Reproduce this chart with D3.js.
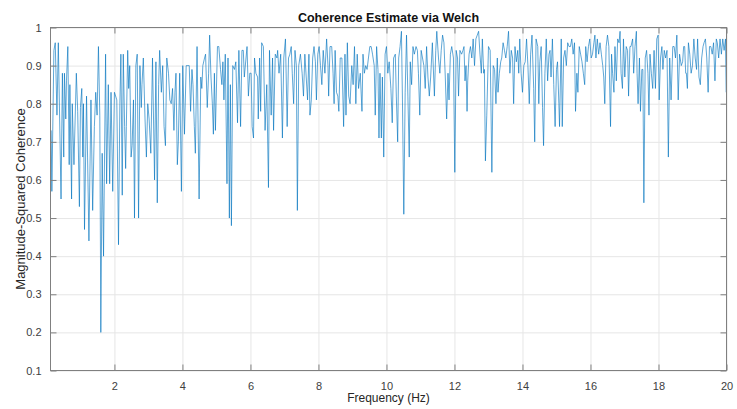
<!DOCTYPE html>
<html>
<head>
<meta charset="utf-8">
<script src="https://cdn.jsdelivr.net/npm/d3@7"></script>
<style>
  body { margin: 0; background: #fff; }
  text { font-family: "Liberation Sans", Arial, sans-serif; }
</style>
</head>
<body>
<div id="chart"></div>
<script>
// values (vertices of the trace)
var freq = [
  0.14, 0.16, 0.22, 0.26, 0.31, 0.35, 0.43, 0.47, 0.51, 0.53, 0.57, 0.59, 0.63, 0.67, 0.69, 0.74, 0.76, 0.81, 0.88, 0.92,
  0.97, 1.00, 1.04, 1.07, 1.09, 1.12, 1.18, 1.21, 1.25, 1.31, 1.36, 1.41, 1.45, 1.49, 1.53, 1.57, 1.60, 1.64, 1.68, 1.74,
  1.77, 1.82, 1.86, 1.90, 1.95, 2.00, 2.07, 2.12, 2.16, 2.19, 2.23, 2.26, 2.30, 2.33, 2.35, 2.39, 2.42, 2.45, 2.49, 2.52,
  2.56, 2.59, 2.63, 2.67, 2.71, 2.75, 2.79, 2.81, 2.85, 2.90, 2.94, 2.98, 3.02, 3.07, 3.12, 3.18, 3.22, 3.26, 3.30, 3.33,
  3.38, 3.42, 3.46, 3.50, 3.54, 3.59, 3.63, 3.67, 3.71, 3.75, 3.78, 3.81, 3.85, 3.88, 3.92, 3.97, 4.01, 4.06, 4.11, 4.20,
  4.24, 4.28, 4.31, 4.35, 4.38, 4.43, 4.49, 4.54, 4.57, 4.60, 4.65, 4.68, 4.73, 4.77, 4.80, 4.84, 4.88, 4.91, 4.94, 4.97,
  5.03, 5.07, 5.12, 5.16, 5.19, 5.22, 5.26, 5.31, 5.34, 5.38, 5.41, 5.44, 5.48, 5.53, 5.57, 5.62, 5.66, 5.71, 5.75, 5.79,
  5.82, 5.87, 5.90, 5.94, 5.98, 6.02, 6.05, 6.09, 6.12, 6.16, 6.21, 6.23, 6.27, 6.30, 6.33, 6.38, 6.43, 6.48, 6.53, 6.56,
  6.61, 6.65, 6.68, 6.73, 6.78, 6.80, 6.84, 6.89, 6.94, 6.98, 7.03, 7.08, 7.12, 7.16, 7.20, 7.23, 7.27, 7.31, 7.35, 7.38,
  7.42, 7.47, 7.52, 7.56, 7.60, 7.64, 7.68, 7.72, 7.75, 7.79, 7.83, 7.87, 7.91, 7.94, 7.98, 8.02, 8.06, 8.10, 8.14, 8.19,
  8.24, 8.28, 8.30, 8.34, 8.39, 8.43, 8.46, 8.49, 8.53, 8.57, 8.60, 8.64, 8.69, 8.74, 8.78, 8.81, 8.85, 8.89, 8.93, 8.98,
  9.02, 9.06, 9.10, 9.14, 9.18, 9.23, 9.28, 9.31, 9.35, 9.39, 9.43, 9.47, 9.51, 9.55, 9.59, 9.64, 9.67, 9.71, 9.75, 9.78,
  9.81, 9.85, 9.88, 9.92, 9.96, 10.00, 10.04, 10.08, 10.13, 10.17, 10.21, 10.26, 10.29, 10.33, 10.36, 10.40, 10.44, 10.47, 10.51, 10.55,
  10.59, 10.63, 10.67, 10.70, 10.74, 10.78, 10.82, 10.87, 10.91, 10.94, 10.98, 11.02, 11.06, 11.10, 11.14, 11.18, 11.22, 11.26, 11.30, 11.35,
  11.41, 11.45, 11.48, 11.53, 11.57, 11.61, 11.65, 11.69, 11.73, 11.77, 11.81, 11.84, 11.88, 11.92, 11.97, 12.01, 12.05, 12.09, 12.12, 12.16,
  12.21, 12.25, 12.28, 12.31, 12.34, 12.37, 12.39, 12.43, 12.47, 12.51, 12.55, 12.59, 12.63, 12.67, 12.71, 12.75, 12.79, 12.82, 12.86, 12.88,
  12.91, 12.95, 13.00, 13.05, 13.10, 13.14, 13.18, 13.22, 13.26, 13.28, 13.32, 13.36, 13.39, 13.43, 13.47, 13.51, 13.55, 13.59, 13.63, 13.67,
  13.71, 13.74, 13.78, 13.82, 13.86, 13.89, 13.92, 13.96, 14.00, 14.04, 14.08, 14.12, 14.16, 14.20, 14.24, 14.28, 14.33, 14.36, 14.40, 14.45,
  14.48, 14.51, 14.55, 14.59, 14.62, 14.66, 14.70, 14.74, 14.78, 14.81, 14.84, 14.88, 14.92, 14.96, 15.00, 15.03, 15.07, 15.09, 15.14, 15.17,
  15.21, 15.25, 15.29, 15.33, 15.37, 15.41, 15.45, 15.49, 15.53, 15.56, 15.60, 15.63, 15.67, 15.71, 15.75, 15.79, 15.83, 15.86, 15.90, 15.94,
  15.98, 16.02, 16.06, 16.10, 16.13, 16.16, 16.20, 16.24, 16.28, 16.32, 16.36, 16.39, 16.42, 16.46, 16.50, 16.54, 16.59, 16.62, 16.65, 16.69,
  16.72, 16.76, 16.80, 16.84, 16.87, 16.90, 16.94, 16.97, 17.01, 17.05, 17.09, 17.12, 17.16, 17.19, 17.24, 17.27, 17.31, 17.35, 17.37, 17.40,
  17.44, 17.47, 17.51, 17.54, 17.57, 17.61, 17.65, 17.69, 17.72, 17.75, 17.79, 17.83, 17.87, 17.91, 17.95, 17.99, 18.02, 18.06, 18.10, 18.13,
  18.17, 18.21, 18.25, 18.29, 18.33, 18.37, 18.42, 18.46, 18.50, 18.54, 18.58, 18.62, 18.67, 18.71, 18.74, 18.77, 18.80, 18.82, 18.85, 18.88,
  18.92, 18.96, 19.00, 19.04, 19.08, 19.12, 19.15, 19.19, 19.23, 19.27, 19.31, 19.34, 19.38, 19.42, 19.46, 19.50, 19.54, 19.58, 19.62, 19.66,
  19.70, 19.73, 19.77, 19.81, 19.85, 19.89, 19.93, 19.97, 19.99
];
var coh = [
  0.73, 0.57, 0.94, 0.96, 0.77, 0.96, 0.55, 0.88, 0.66, 0.88, 0.76, 0.86, 0.95, 0.64, 0.85, 0.55, 0.80, 0.64, 0.88, 0.78,
  0.53, 0.79, 0.84, 0.66, 0.80, 0.47, 0.82, 0.66, 0.44, 0.81, 0.52, 0.74, 0.83, 0.77, 0.95, 0.77, 0.20, 0.67, 0.40, 0.93,
  0.59, 0.85, 0.59, 0.83, 0.57, 0.83, 0.81, 0.43, 0.80, 0.93, 0.56, 0.93, 0.74, 0.63, 0.74, 0.94, 0.84, 0.90, 0.66, 0.69,
  0.81, 0.50, 0.90, 0.93, 0.50, 0.90, 0.79, 0.85, 0.92, 0.76, 0.66, 0.80, 0.76, 0.67, 0.92, 0.60, 0.91, 0.54, 0.85, 0.94,
  0.83, 0.90, 0.74, 0.69, 0.92, 0.88, 0.81, 0.80, 0.84, 0.73, 0.83, 0.88, 0.64, 0.70, 0.88, 0.57, 0.90, 0.72, 0.90, 0.90,
  0.78, 0.89, 0.85, 0.74, 0.67, 0.95, 0.55, 0.87, 0.84, 0.90, 0.92, 0.93, 0.79, 0.88, 0.98, 0.87, 0.80, 0.72, 0.88, 0.73,
  0.95, 0.95, 0.89, 0.85, 0.91, 0.81, 0.93, 0.59, 0.92, 0.50, 0.85, 0.48, 0.90, 0.89, 0.91, 0.75, 0.94, 0.74, 0.94, 0.94,
  0.87, 0.92, 0.95, 0.82, 0.88, 0.88, 0.74, 0.71, 0.92, 0.88, 0.87, 0.76, 0.92, 0.78, 0.96, 0.95, 0.73, 0.85, 0.58, 0.94,
  0.77, 0.92, 0.73, 0.93, 0.92, 0.94, 0.88, 0.93, 0.71, 0.92, 0.97, 0.74, 0.92, 0.93, 0.95, 0.88, 0.80, 0.94, 0.90, 0.52,
  0.90, 0.93, 0.88, 0.82, 0.93, 0.87, 0.81, 0.93, 0.77, 0.81, 0.92, 0.95, 0.91, 0.81, 0.93, 0.95, 0.90, 0.85, 0.94, 0.88,
  0.97, 0.90, 0.82, 0.95, 0.95, 0.88, 0.80, 0.94, 0.83, 0.82, 0.78, 0.92, 0.92, 0.74, 0.93, 0.77, 0.96, 0.82, 0.80, 0.90,
  0.85, 0.95, 0.80, 0.93, 0.84, 0.88, 0.78, 0.93, 0.88, 0.90, 0.89, 0.92, 0.95, 0.95, 0.93, 0.90, 0.77, 0.95, 0.89, 0.71,
  0.88, 0.71, 0.87, 0.66, 0.93, 0.95, 0.88, 0.91, 0.84, 0.75, 0.92, 0.93, 0.82, 0.70, 0.92, 0.95, 0.99, 0.81, 0.51, 0.83,
  0.98, 0.82, 0.66, 0.91, 0.85, 0.95, 0.93, 0.95, 0.94, 0.88, 0.77, 0.94, 0.92, 0.90, 0.84, 0.95, 0.87, 0.82, 0.87, 0.96,
  0.82, 0.94, 0.99, 0.92, 0.88, 0.94, 0.98, 0.96, 0.87, 0.76, 0.88, 0.81, 0.93, 0.95, 0.92, 0.62, 0.94, 0.92, 0.82, 0.94,
  0.93, 0.94, 0.95, 0.86, 0.90, 0.78, 0.86, 0.93, 0.95, 0.92, 0.97, 0.90, 0.97, 0.98, 0.99, 0.93, 0.88, 0.97, 0.88, 0.89,
  0.65, 0.77, 0.95, 0.94, 0.62, 0.90, 0.89, 0.80, 0.92, 0.83, 0.88, 0.91, 0.92, 0.96, 0.94, 0.92, 0.95, 0.99, 0.88, 0.94,
  0.92, 0.80, 0.95, 0.91, 0.94, 0.88, 0.97, 0.88, 0.83, 0.90, 0.91, 0.97, 0.90, 0.80, 0.93, 0.98, 0.84, 0.70, 0.97, 0.95,
  0.80, 0.91, 0.95, 0.79, 0.69, 0.88, 0.97, 0.86, 0.93, 0.94, 0.87, 0.97, 0.85, 0.74, 0.89, 0.91, 0.80, 0.74, 0.97, 0.74,
  0.92, 0.94, 0.90, 0.96, 0.95, 0.95, 0.97, 0.93, 0.96, 0.78, 0.88, 0.83, 0.95, 0.93, 0.91, 0.88, 0.85, 0.95, 0.91, 0.95,
  0.97, 0.92, 0.93, 0.96, 0.98, 0.92, 0.97, 0.93, 0.96, 0.93, 0.90, 0.87, 0.80, 0.95, 0.98, 0.95, 0.74, 0.93, 0.88, 0.83,
  0.95, 0.86, 0.97, 0.96, 0.99, 0.88, 0.84, 0.97, 0.87, 0.95, 0.94, 0.82, 0.95, 0.95, 0.97, 0.88, 0.95, 0.99, 0.88, 0.80,
  0.92, 0.78, 0.89, 0.89, 0.54, 0.92, 0.94, 0.88, 0.77, 0.93, 0.88, 0.84, 0.94, 0.84, 0.97, 0.98, 0.81, 0.92, 0.95, 0.89,
  0.94, 0.92, 0.94, 0.66, 0.92, 0.81, 0.95, 0.95, 0.92, 0.98, 0.81, 0.93, 0.90, 0.91, 0.95, 0.95, 0.88, 0.88, 0.84, 0.96,
  0.93, 0.88, 0.90, 0.97, 0.92, 0.89, 0.97, 0.87, 0.85, 0.92, 0.95, 0.96, 0.97, 0.92, 0.83, 0.95, 0.95, 0.93, 0.96, 0.86,
  0.97, 0.96, 0.92, 0.97, 0.93, 0.97, 0.94, 0.97, 0.83
];
var xTicks = [2, 4, 6, 8, 10, 12, 14, 16, 18, 20];
var yTicks = [0.1, 0.2, 0.3, 0.4, 0.5, 0.6, 0.7, 0.8, 0.9, 1];

var W = 737, H = 409;
var mLeft = 50.5, mTop = 27.5, mRight = 726.5, mBottom = 370.5;
var pw = mRight - mLeft, ph = mBottom - mTop;

var svg = d3.select("#chart")
    .append("svg")
    .attr("width", W)
    .attr("height", H);

var x = d3.scaleLinear().domain([0.12, 20]).range([0, pw]);
var y = d3.scaleLinear().domain([0.1, 1]).range([ph, 0]);

var g = svg.append("g")
    .attr("transform", "translate(" + mLeft + "," + mTop + ")");

// grid
g.append("g")
    .attr("transform", "translate(0," + ph + ")")
    .call(d3.axisBottom(x).tickValues(xTicks).tickSize(-ph).tickFormat(""))
    .call(function (s) { s.select(".domain").remove(); })
    .selectAll("line").attr("stroke", "#e6e6e6");
g.append("g")
    .call(d3.axisLeft(y).tickValues(yTicks).tickSize(-pw).tickFormat(""))
    .call(function (s) { s.select(".domain").remove(); })
    .selectAll("line").attr("stroke", "#e6e6e6");

// coherence trace
var line = d3.line()
    .x(function (d, i) { return x(freq[i]); })
    .y(function (d) { return y(d); });

g.append("path")
    .datum(coh)
    .attr("fill", "none")
    .attr("stroke", "#0072bd")
    .attr("stroke-width", 0.7)
    .attr("stroke-opacity", 0.9)
    .attr("stroke-linejoin", "round")
    .attr("d", line);

// axes, ticks pointing inward
function styleAxis(s) {
  s.select(".domain").remove();
  s.selectAll("line").attr("stroke", "#808080");
  s.selectAll("text")
    .attr("fill", "#404040")
    .style("font-size", "11px")
    .style("font-family", "'Liberation Sans', Arial, sans-serif");
}
g.append("g")
    .attr("transform", "translate(0," + ph + ")")
    .call(d3.axisBottom(x).tickValues(xTicks).tickSizeInner(-6).tickPadding(12).tickFormat(d3.format("d")))
    .call(styleAxis);
g.append("g")
    .call(d3.axisTop(x).tickValues(xTicks).tickSizeInner(-6).tickFormat(""))
    .call(styleAxis);
g.append("g")
    .call(d3.axisLeft(y).tickValues(yTicks).tickSizeInner(-6).tickPadding(9).tickFormat(function (d) { return d === 1 ? "1" : d.toFixed(1); }))
    .call(styleAxis);
g.append("g")
    .attr("transform", "translate(" + pw + ",0)")
    .call(d3.axisRight(y).tickValues(yTicks).tickSizeInner(-6).tickFormat(""))
    .call(styleAxis);

g.append("rect")
    .attr("width", pw)
    .attr("height", ph)
    .attr("fill", "none")
    .attr("stroke", "#808080")
    .attr("stroke-width", 1);

// labels
svg.append("text")
    .attr("x", mLeft + pw / 2)
    .attr("y", 22)
    .attr("text-anchor", "middle")
    .style("font-size", "12.5px")
    .style("font-weight", "bold")
    .attr("fill", "#111")
    .text("Coherence Estimate via Welch");

svg.append("text")
    .attr("x", mLeft + pw / 2)
    .attr("y", 402)
    .attr("text-anchor", "middle")
    .style("font-size", "12px")
    .attr("fill", "#262626")
    .text("Frequency (Hz)");

svg.append("text")
    .attr("transform", "translate(25," + (mTop + ph / 2) + ") rotate(-90)")
    .attr("text-anchor", "middle")
    .style("font-size", "13px")
    .attr("fill", "#262626")
    .text("Magnitude-Squared Coherence");
</script>
</body>
</html>
